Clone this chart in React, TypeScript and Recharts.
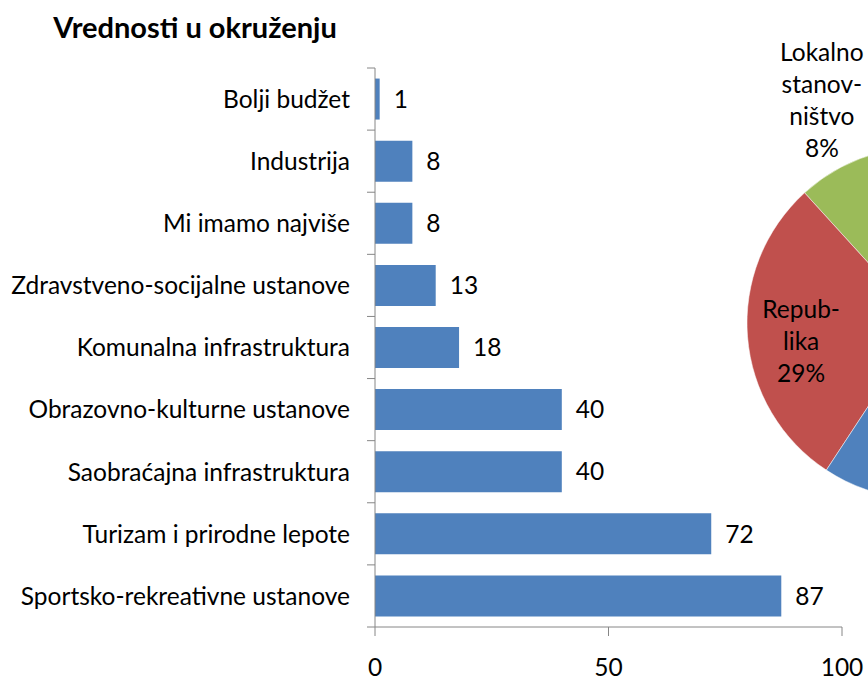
import React from "react";
import { BarChart, Bar, XAxis, YAxis, LabelList, PieChart, Pie, Cell } from "recharts";

const categories = [
  "Bolji budžet",
  "Industrija",
  "Mi imamo najviše",
  "Zdravstveno-socijalne ustanove",
  "Komunalna infrastruktura",
  "Obrazovno-kulturne ustanove",
  "Saobraćajna infrastruktura",
  "Turizam i prirodne lepote",
  "Sportsko-rekreativne ustanove",
];
const values = [1, 8, 8, 13, 18, 40, 40, 72, 87];
const xTicks = [0, 50, 100];

const pieNames = ["Lokalno stanovništvo", "Republika", "Ostalo"];
const pieLabelLines = [["Lokalno", "stanov-", "ništvo"], ["Repub-", "lika"], []];
const pieValues = [8, 29, 63];
const pieColors = ["#9BBB59", "#C0504D", "#4F81BD"];

const FONT = "Lato, 'Open Sans', sans-serif";
const FS = 24.5;
const W = 868;
const H = 681;
const MARGIN = { top: 68, right: 26, bottom: 0, left: 0 };
const XAXIS_H = 54;
const AXIS_COLOR = "#868686";

const barData = categories.map((name, i) => ({ name, value: values[i] }));
const pieData = pieNames.map((name, i) => ({ name, value: pieValues[i] }));

const bandSize = (H - MARGIN.top - MARGIN.bottom - XAXIS_H) / categories.length;

const CategoryTick = (props: any) => {
  const { x, y, payload, index, visibleTicksCount } = props;
  const top = y - bandSize / 2;
  const bottom = y + bandSize / 2;
  return (
    <g>
      <line x1={x - 8} x2={x} y1={top} y2={top} stroke={AXIS_COLOR} strokeWidth={1} />
      {index === visibleTicksCount - 1 && (
        <line x1={x - 8} x2={x} y1={bottom} y2={bottom} stroke={AXIS_COLOR} strokeWidth={1} />
      )}
      <text x={x - 25} y={y} dy="0.36em" textAnchor="end" fontFamily={FONT} fontSize={FS} fill="#000">
        {payload.value}
      </text>
    </g>
  );
};

const labelPlacement = [
  { shift: -3.5, radius: 1.391, show: true },
  { shift: 3.9, radius: 0.7, show: true },
  { shift: 0, radius: 0.7, show: false },
];

const renderPieLabel = (props: any) => {
  const { cx, cy, midAngle, outerRadius, index, percent } = props;
  const place = labelPlacement[index];
  if (!place || !place.show) return null;
  const ang = ((midAngle + place.shift) * Math.PI) / 180;
  const r = outerRadius * place.radius;
  const x = cx + r * Math.cos(ang);
  const y = cy - r * Math.sin(ang);
  const lines = [...pieLabelLines[index], `${Math.round(percent * 100)}%`];
  const step = 32;
  const y0 = y - ((lines.length - 1) * step) / 2;
  return (
    <text x={x} y={y0} textAnchor="middle" fontFamily={FONT} fontSize={FS} fill="#000">
      {lines.map((l, i) => (
        <tspan key={i} x={x} y={y0 + i * step} dy="0.36em">
          {l}
        </tspan>
      ))}
    </text>
  );
};

export default function App() {
  return (
    <div
      style={{
        position: "absolute",
        left: 0,
        top: 0,
        width: W,
        height: H,
        overflow: "hidden",
        background: "#fff",
      }}
    >
      <div style={{ position: "absolute", left: 0, top: 0 }}>
        <PieChart width={1100} height={H}>
          <Pie
            data={pieData}
            dataKey="value"
            nameKey="name"
            cx={918}
            cy={318}
            outerRadius={176}
            startAngle={103.5}
            endAngle={463.5}
            stroke="#ffffff"
            strokeWidth={0.5}
            isAnimationActive={false}
            labelLine={false}
            label={renderPieLabel}
          >
            {pieData.map((d, i) => (
              <Cell key={d.name} fill={pieColors[i]} />
            ))}
          </Pie>
        </PieChart>
      </div>
      <div style={{ position: "absolute", left: 0, top: 0 }}>
        <BarChart
          width={W}
          height={H}
          data={barData}
          layout="vertical"
          margin={MARGIN}
          barCategoryGap="17%"
        >
          <XAxis
            type="number"
            domain={[0, 100]}
            ticks={xTicks}
            height={XAXIS_H}
            tickSize={9}
            tickMargin={23}
            interval={0}
            stroke={AXIS_COLOR}
            tick={{ fill: "#000", fontFamily: FONT, fontSize: FS }}
          />
          <YAxis
            type="category"
            dataKey="name"
            width={375}
            tickLine={false}
            tickSize={0}
            tickMargin={0}
            interval={0}
            stroke={AXIS_COLOR}
            tick={<CategoryTick />}
          />
          <Bar dataKey="value" fill="#4F81BD" isAnimationActive={false}>
            <LabelList
              dataKey="value"
              position="right"
              offset={14}
              fill="#000"
              style={{ fontFamily: FONT, fontSize: FS }}
            />
          </Bar>
        </BarChart>
      </div>
      <div
        style={{
          position: "absolute",
          left: 20,
          top: 9,
          width: 350,
          textAlign: "center",
          fontFamily: FONT,
          fontWeight: 700,
          fontSize: 29,
          lineHeight: "36px",
          color: "#000",
          whiteSpace: "nowrap",
        }}
      >
        Vrednosti u okruženju
      </div>
    </div>
  );
}
